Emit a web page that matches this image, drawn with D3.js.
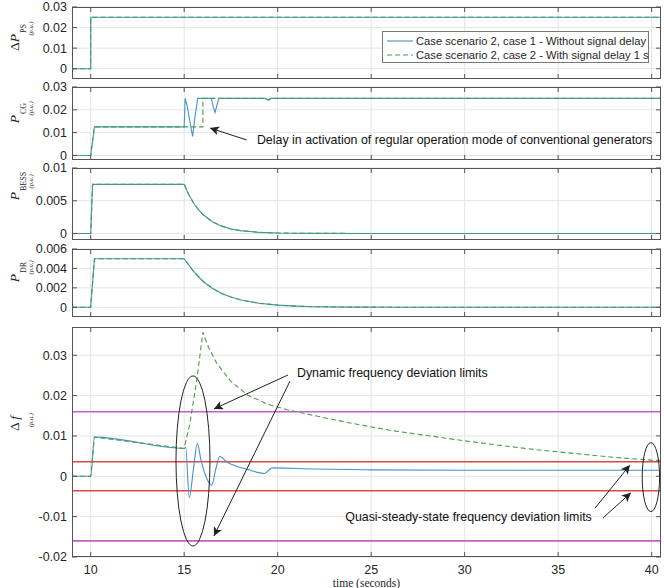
<!DOCTYPE html>
<html><head><meta charset="utf-8">
<script src="https://cdn.jsdelivr.net/npm/d3@7"></script>
<style>body{margin:0;background:#fff}svg{display:block}</style>
</head><body>
<svg id="c" width="664" height="588"></svg>
<script>
// ---------- data ----------
const xTicks = [10, 15, 20, 25, 30, 35, 40];
const seriesNames = ["Case scenario 2, case 1 - Without signal delay", "Case scenario 2, case 2 - With signal delay 1 s"];

const psTime  = [9, 10, 10, 40.5];
const psCase1 = [0, 0, 0.025, 0.025];
const psCase2 = [0, 0, 0.025, 0.025];

const cgTime1  = [9, 10, 10.2, 15, 15.05, 15.15, 15.3, 15.45, 15.58, 15.72, 16.45, 16.55, 16.65, 16.75, 16.85, 19.35, 19.5, 19.65, 40.5];
const cgCase1  = [0, 0, 0.0125, 0.0125, 0.025, 0.022, 0.015, 0.0083, 0.017, 0.025, 0.025, 0.0215, 0.0188, 0.022, 0.025, 0.025, 0.0243, 0.025, 0.025];
const cgTime2  = [9, 10, 10.2, 16.0, 16.0, 19.35, 19.5, 19.65, 40.5];
const cgCase2  = [0, 0, 0.0125, 0.0125, 0.025, 0.025, 0.0243, 0.025, 0.025];

const bessTime  = [9, 10, 10.1, 15, 15.25, 15.5, 15.75, 16, 16.5, 17, 17.5, 18, 19, 20, 22, 25, 40.5];
const bessCase1 = [0, 0, 0.0075, 0.0075, 0.0059, 0.00466, 0.00367, 0.0029, 0.0018, 0.00112, 0.00069, 0.00043, 0.00017, 0.00006, 0.00001, 0, 0];
const bessCase2 = [0, 0, 0.0075, 0.0075, 0.0059, 0.00466, 0.00367, 0.0029, 0.0018, 0.00112, 0.00069, 0.00043, 0.00017, 0.00006, 0.00001, 0, 0];

const drTime  = [9, 10, 10.2, 15, 15.5, 16, 16.5, 17, 17.5, 18, 19, 20, 21, 22, 24, 27, 40.5];
const drCase1 = [0, 0, 0.005, 0.005, 0.0037, 0.00268, 0.00196, 0.00143, 0.00105, 0.00077, 0.00041, 0.00022, 0.00012, 0.00006, 0.00002, 0, 0];
const drCase2 = [0, 0, 0.005, 0.005, 0.0037, 0.00268, 0.00196, 0.00143, 0.00105, 0.00077, 0.00041, 0.00022, 0.00012, 0.00006, 0.00002, 0, 0];

const fTime1  = [9, 10, 10.2, 15, 15.08, 15.27, 15.5, 15.7, 15.9, 16.2, 16.47, 16.7, 16.9, 17.3, 17.8, 18.4, 19.3, 19.7, 22, 25, 30, 35, 40.5];
const fCase1  = [0, 0, 0.0097, 0.0069, 0.0072, -0.0053, 0.002, 0.0081, 0.004, -0.0005, -0.0022, 0.002, 0.0049, 0.0035, 0.0025, 0.0017, 0.0007, 0.0021, 0.0018, 0.0016, 0.0015, 0.0015, 0.0015];
const fTime2  = [9, 10, 10.2, 15, 15.3, 15.68, 16.0, 16.3, 16.74, 17.5, 18.4, 19.5, 20.5, 21, 22, 24, 26, 28, 30, 32, 34, 36, 38, 40, 40.5];
const fCase2  = [0, 0, 0.0097, 0.0069, 0.013, 0.024, 0.0357, 0.032, 0.028, 0.0235, 0.0201, 0.0178, 0.0165, 0.016, 0.015, 0.0131, 0.0114, 0.0101, 0.0088, 0.0076, 0.0065, 0.0056, 0.0047, 0.0040, 0.0039];

const dynLimits   = [0.016, -0.016];
const quasiLimits = [0.0036, -0.0036];

// ---------- layout ----------
const svg = d3.select("#c");
const X0 = 72, X1 = 661;
const x = d3.scaleLinear().domain([9, 40.5]).range([X0, X1]);
const C1 = "#4393cc", C2 = "#4a9e4a";
const AX = "#555555", GRID = "#e4e4e4", TXT = "#262626";
const SANS = "'Liberation Sans', Arial, sans-serif";
const SERIF = "'Liberation Serif', 'Times New Roman', serif";

const defs = svg.append("defs");
defs.append("marker").attr("id", "ah").attr("viewBox", "0 0 10 10")
  .attr("refX", 10).attr("refY", 5).attr("markerWidth", 11).attr("markerHeight", 9)
  .attr("markerUnits", "userSpaceOnUse").attr("orient", "auto")
  .append("path").attr("d", "M0,0 L10,5 L0,10 L2.5,5 Z").attr("fill", "#222");

const panels = [
  {top: 7,   bottom: 79,  dom: [-0.005, 0.03], ticks: [0, 0.01, 0.02, 0.03],
   main: ["Δ", "P"], sub: "PS", junction: 34,
   series: [[psTime, psCase1], [psTime, psCase2]]},
  {top: 87,  bottom: 160, dom: [-0.002, 0.03], ticks: [0, 0.01, 0.02, 0.03],
   main: ["", "P"], sub: "CG", junction: 115,
   series: [[cgTime1, cgCase1], [cgTime2, cgCase2]]},
  {top: 168, bottom: 240, dom: [-0.001, 0.01], ticks: [0, 0.005, 0.01],
   main: ["", "P"], sub: "BESS", junction: 192,
   series: [[bessTime, bessCase1], [bessTime, bessCase2]]},
  {top: 249, bottom: 317, dom: [-0.001, 0.006], ticks: [0, 0.002, 0.004, 0.006],
   main: ["", "P"], sub: "DR", junction: 274,
   series: [[drTime, drCase1], [drTime, drCase2]]},
  {top: 327, bottom: 557, dom: [-0.02, 0.037], ticks: [-0.02, -0.01, 0, 0.01, 0.02, 0.03],
   main: ["Δ ", "f"], sub: "", junction: 416,
   series: [[fTime1, fCase1], [fTime2, fCase2]]}
];

const fmt = v => v === 0 ? "0" : String(+v.toFixed(4));

panels.forEach((p, i) => {
  const y = d3.scaleLinear().domain(p.dom).range([p.bottom, p.top]);
  p.y = y;
  const g = svg.append("g");
  const cid = "clip" + i;
  defs.append("clipPath").attr("id", cid).append("rect")
    .attr("x", X0).attr("y", p.top).attr("width", X1 - X0).attr("height", p.bottom - p.top);
  g.selectAll(".vg").data(xTicks).join("line")
    .attr("x1", d => x(d)).attr("x2", d => x(d)).attr("y1", p.top).attr("y2", p.bottom)
    .attr("stroke", GRID).attr("stroke-width", 1);
  g.selectAll(".hg").data(p.ticks).join("line")
    .attr("x1", X0).attr("x2", X1).attr("y1", d => y(d)).attr("y2", d => y(d))
    .attr("stroke", GRID).attr("stroke-width", 1);
  const plot = g.append("g").attr("clip-path", `url(#${cid})`);
  if (i === 4) {
    plot.selectAll(".dl").data(dynLimits).join("line")
      .attr("x1", X0).attr("x2", X1).attr("y1", d => y(d)).attr("y2", d => y(d))
      .attr("stroke", "#c060c8").attr("stroke-width", 1.6);
    plot.selectAll(".ql").data(quasiLimits).join("line")
      .attr("x1", X0).attr("x2", X1).attr("y1", d => y(d)).attr("y2", d => y(d))
      .attr("stroke", "#d8484a").attr("stroke-width", 1.4);
  }
  const line = d3.line().x(d => x(d[0])).y(d => y(d[1]));
  p.series.forEach((s, k) => {
    const pts = s[0].map((t, j) => [t, s[1][j]]);
    const l = (i === 4 && k === 0) ? d3.line().x(d => x(d[0])).y(d => y(d[1])).curve(d3.curveMonotoneX) : line;
    plot.append("path").attr("d", l(pts)).attr("fill", "none")
      .attr("stroke", k === 0 ? C1 : C2).attr("stroke-width", 1.1)
      .attr("stroke-dasharray", k === 0 ? null : "5,3");
  });
  g.append("rect").attr("x", X0 + 0.5).attr("y", p.top + 0.5)
    .attr("width", X1 - X0 - 1).attr("height", p.bottom - p.top - 1)
    .attr("fill", "none").attr("stroke", AX).attr("stroke-width", 1);
  const tl = 5;
  g.selectAll(".xt").data(xTicks).join("path")
    .attr("d", d => `M${x(d)},${p.bottom}v${-tl}M${x(d)},${p.top}v${tl}`)
    .attr("stroke", AX);
  g.selectAll(".yt").data(p.ticks).join("path")
    .attr("d", d => `M${X0},${y(d)}h${tl}M${X1},${y(d)}h${-tl}`)
    .attr("stroke", AX);
  g.selectAll(".yl").data(p.ticks).join("text")
    .attr("x", X0 - 5).attr("y", d => y(d)).attr("dy", "0.35em")
    .attr("text-anchor", "end").attr("font-family", SANS).attr("font-size", 12.5)
    .attr("fill", TXT).text(fmt);
  if (i === 4) {
    g.selectAll(".xl").data(xTicks).join("text")
      .attr("x", d => x(d)).attr("y", p.bottom + 16.5)
      .attr("text-anchor", "middle").attr("font-family", SANS).attr("font-size", 12.5)
      .attr("fill", TXT).text(d => d);
  }
  const lg = svg.append("g").attr("transform", `translate(0,${p.junction}) rotate(-90)`);
  const mt = lg.append("text").attr("x", 0).attr("y", 19).attr("text-anchor", "end")
    .attr("font-family", SERIF).attr("font-size", 13.5).attr("fill", TXT);
  if (p.main[0]) mt.append("tspan").text(p.main[0]);
  mt.append("tspan").attr("font-style", "italic").text(p.main[1]);
  let puCenter = -4;
  if (p.sub) {
    const st = lg.append("text").attr("x", 1).attr("y", 26)
      .attr("font-family", SERIF).attr("font-size", 8).attr("fill", TXT).text(p.sub);
    puCenter = 1 + st.node().getComputedTextLength() / 2;
  }
  lg.append("text").attr("x", puCenter).attr("y", 32.5).attr("text-anchor", "middle")
    .attr("font-family", SERIF).attr("font-style", "italic").attr("font-size", 6.5)
    .attr("fill", TXT).text("(p.u.)");
});

// x-axis label
svg.append("text").attr("x", (X0 + X1) / 2).attr("y", 587).attr("text-anchor", "middle")
  .attr("font-family", SERIF).attr("font-size", 11.5).attr("fill", TXT).text("time (seconds)");

// legend
const lgd = svg.append("g");
lgd.append("rect").attr("x", 382.5).attr("y", 31.5).attr("width", 266).attr("height", 31)
  .attr("fill", "#fff").attr("stroke", "#777");
seriesNames.forEach((n, k) => {
  const yy = 41 + k * 14;
  lgd.append("line").attr("x1", 387).attr("x2", 413).attr("y1", yy).attr("y2", yy)
    .attr("stroke", k === 0 ? C1 : C2).attr("stroke-width", 1.1)
    .attr("stroke-dasharray", k === 0 ? null : "5,3");
  lgd.append("text").attr("x", 416).attr("y", yy).attr("dy", "0.35em")
    .attr("font-family", SANS).attr("font-size", 11.2).attr("fill", TXT).text(n);
});

// annotations
const ann = svg.append("g");
function arrow(py, t0, v0, t1, v1) {
  ann.append("line").attr("x1", x(t0)).attr("y1", py(v0)).attr("x2", x(t1)).attr("y2", py(v1))
    .attr("stroke", "#222").attr("stroke-width", 1).attr("marker-end", "url(#ah)");
}
function label(py, t, v, s, anchor) {
  ann.append("text").attr("x", x(t)).attr("y", py(v)).attr("dy", "0.35em")
    .attr("text-anchor", anchor || "start")
    .attr("font-family", SANS).attr("font-size", 12.4).attr("fill", "#111").text(s);
}
const y2 = panels[1].y, y5 = panels[4].y;
arrow(y2, 18.34, 0.0068, 16.38, 0.012);
label(y2, 18.89, 0.0068, "Delay in activation of regular operation mode of conventional generators");

ann.append("ellipse").attr("cx", x(15.47)).attr("cy", y5(0.0038))
  .attr("rx", x(15.47 + 0.909) - x(15.47)).attr("ry", y5(0) - y5(0.02107))
  .attr("fill", "none").attr("stroke", "#222").attr("stroke-width", 1);
ann.append("ellipse").attr("cx", x(39.96)).attr("cy", y5(-0.0002))
  .attr("rx", x(39.96 + 0.465) - x(39.96)).attr("ry", y5(0) - y5(0.00855))
  .attr("fill", "none").attr("stroke", "#222").attr("stroke-width", 1);
arrow(y5, 20.55, 0.0251, 16.59, 0.0167);
arrow(y5, 20.66, 0.0236, 16.59, -0.0148);
label(y5, 21.03, 0.0258, "Dynamic frequency deviation limits");
arrow(y5, 36.97, -0.0079, 38.84, 0.0028);
arrow(y5, 37.40, -0.0103, 38.89, -0.0041);
label(y5, 36.8, -0.0101, "Quasi-steady-state frequency deviation limits", "end");
</script>
</body></html>
